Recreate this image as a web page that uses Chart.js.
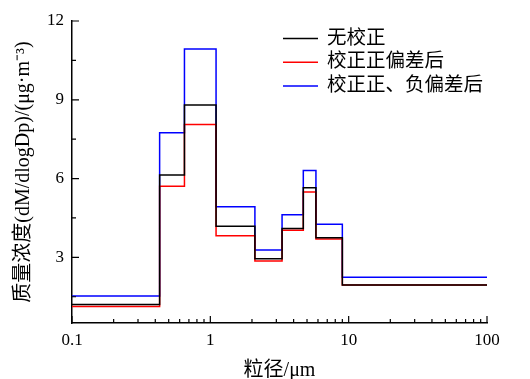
<!DOCTYPE html>
<html>
<head>
<meta charset="utf-8">
<script src="https://cdn.jsdelivr.net/npm/chart.js@4/dist/chart.umd.min.js"></script>
<style>
  html, body { margin: 0; padding: 0; background: #fff; }
  #wrap { width: 530px; height: 379px; }
</style>
</head>
<body>
<div id="wrap"><canvas id="c"></canvas></div>
<script>
// bin edges (um) and dM/dlogDp values per bin
var edges = [0.1, 0.43, 0.65, 1.1, 2.1, 3.3, 4.7, 5.8, 9.0, 100];
var raw = [1.20, 6.14, 8.80, 4.18, 2.95, 4.10, 5.65, 3.75, 1.95];
var posCorr = [1.13, 5.71, 8.06, 3.82, 2.86, 4.03, 5.49, 3.70, 1.95];
var bothCorr = [1.53, 7.74, 10.93, 4.93, 3.28, 4.62, 6.31, 4.26, 2.24];
var xTicks = [0.1, 1, 10, 100];
var yTicks = [3, 6, 9, 12];
var yMinor = [1.5, 4.5, 7.5, 10.5];

var serif = "'Liberation Serif', 'Noto Sans CJK SC', serif";

function steps(vals) {
  return edges.map(function (e, i) {
    return {x: e, y: vals[Math.min(i, vals.length - 1)]};
  });
}

function ds(label, vals, color) {
  return {
    label: label,
    data: steps(vals),
    borderColor: color,
    backgroundColor: color,
    borderWidth: 1.5,
    pointRadius: 0,
    stepped: true,
    fill: false
  };
}

// inward ticks + minor ticks
var tickPlugin = {
  id: 'inTicks',
  afterDraw: function (chart) {
    var ctx = chart.ctx, xs = chart.scales.x, ys = chart.scales.y;
    var bottom = chart.chartArea.bottom, left = chart.chartArea.left;
    ctx.save();
    ctx.strokeStyle = '#000';
    ctx.lineWidth = 1.2;
    ctx.beginPath();
    xTicks.forEach(function (v) {
      var p = xs.getPixelForValue(v);
      ctx.moveTo(p, bottom); ctx.lineTo(p, bottom - 7);
    });
    [0.1, 1, 10].forEach(function (d) {
      for (var k = 2; k <= 9; k++) {
        var p = xs.getPixelForValue(d * k);
        ctx.moveTo(p, bottom); ctx.lineTo(p, bottom - 4);
      }
    });
    yTicks.forEach(function (v) {
      var p = ys.getPixelForValue(v);
      ctx.moveTo(left, p); ctx.lineTo(left + 7, p);
    });
    yMinor.forEach(function (v) {
      var p = ys.getPixelForValue(v);
      ctx.moveTo(left, p); ctx.lineTo(left + 4, p);
    });
    ctx.stroke();
    ctx.restore();
  }
};

// legend drawn in the upper right of the plot
var legendPlugin = {
  id: 'boxLegend',
  afterDraw: function (chart) {
    var ctx = chart.ctx, a = chart.chartArea;
    var x0 = a.right - 204, y0 = a.top + 17.5, row = 23.8;
    ctx.save();
    ctx.font = '19.5px ' + serif;
    ctx.textBaseline = 'middle';
    ctx.fillStyle = '#000';
    chart.data.datasets.forEach(function (d, i) {
      var y = y0 + i * row;
      ctx.strokeStyle = d.borderColor;
      ctx.lineWidth = 1.5;
      ctx.beginPath();
      ctx.moveTo(x0, y); ctx.lineTo(x0 + 35, y);
      ctx.stroke();
      ctx.fillText(d.label, x0 + 44, y);
    });
    ctx.restore();
  }
};

new Chart(document.getElementById('c'), {
  type: 'line',
  data: {
    datasets: [
      ds('无校正', raw, '#000000'),
      ds('校正正偏差后', posCorr, '#ff0000'),
      ds('校正正、负偏差后', bothCorr, '#0000ff')
    ]
  },
  options: {
    responsive: true,
    maintainAspectRatio: false,
    animation: false,
    layout: {padding: {top: 21, right: 43, left: 0, bottom: 0}},
    plugins: {legend: {display: false}, tooltip: {enabled: false}},
    scales: {
      x: {
        type: 'logarithmic',
        min: 0.1,
        max: 100,
        afterBuildTicks: function (s) { s.ticks = xTicks.map(function (v) { return {value: v}; }); },
        afterFit: function (s) { s.height = 56; },
        grid: {display: false, drawTicks: false},
        border: {display: true, color: '#000', width: 1.5},
        ticks: {
          color: '#000', padding: 7, maxRotation: 0, autoSkip: false,
          font: {family: serif, size: 17},
          callback: function (v) { return String(v); }
        },
        title: {
          display: true, text: '粒径/μm', color: '#000',
          font: {family: serif, size: 20}, padding: {top: 0, bottom: -4}
        }
      },
      y: {
        min: 0.5,
        max: 12,
        afterBuildTicks: function (s) { s.ticks = yTicks.map(function (v) { return {value: v}; }); },
        afterFit: function (s) { s.width = 72; },
        grid: {display: false, drawTicks: false},
        border: {display: true, color: '#000', width: 1.5},
        ticks: {
          color: '#000', padding: 8,
          font: {family: serif, size: 17}
        },
        title: {
          display: true, text: '质量浓度(dM/dlogDp)/(μg·m⁻³)', color: '#000',
          font: {family: serif, size: 20}, padding: {top: 12, bottom: 0}
        }
      }
    }
  },
  plugins: [tickPlugin, legendPlugin]
});
</script>
</body>
</html>
